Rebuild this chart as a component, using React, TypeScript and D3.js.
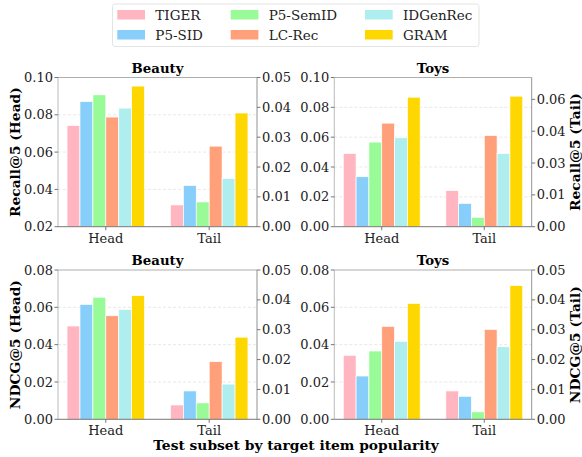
import React, { useEffect, useRef } from 'react';
import * as d3 from 'd3';

const methods = ['TIGER', 'P5-SID', 'P5-SemID', 'LC-Rec', 'IDGenRec', 'GRAM'];
const methodColors = ['#FFB6C1', '#87CEFA', '#98FB98', '#FFA07A', '#AFEEEE', '#FFD700'];
const subsets = ['Head', 'Tail'];

// values, one per method
const beautyRecallHead = [0.0743, 0.0871, 0.0907, 0.0788, 0.0836, 0.0954];
const beautyRecallTail = [0.0073, 0.0138, 0.0083, 0.0270, 0.0162, 0.0381];
const toysRecallHead = [0.0491, 0.0335, 0.0567, 0.0694, 0.0596, 0.0868];
const toysRecallTail = [0.0170, 0.0110, 0.0044, 0.0430, 0.0345, 0.0615];
const beautyNdcgHead = [0.0500, 0.0616, 0.0654, 0.0555, 0.0589, 0.0663];
const beautyNdcgTail = [0.0048, 0.0095, 0.0055, 0.0193, 0.0118, 0.0275];
const toysNdcgHead = [0.0343, 0.0232, 0.0366, 0.0498, 0.0418, 0.0621];
const toysNdcgTail = [0.0095, 0.0077, 0.0025, 0.0301, 0.0243, 0.0448];

const beautyRecallHeadTicks = [0.02, 0.04, 0.06, 0.08, 0.10];
const toysRecallHeadTicks = [0.0, 0.02, 0.04, 0.06, 0.08, 0.10];
const ndcgHeadTicks = [0.0, 0.02, 0.04, 0.06, 0.08];
const tailTicks = [0.0, 0.01, 0.02, 0.03, 0.04, 0.05];
const toysRecallTailTicks = [0.0, 0.015, 0.03, 0.045, 0.06];
const toysRecallTailLabels = ['0.00', '0.01', '0.03', '0.04', '0.06'];

const FONT = 'DejaVu Serif, serif';

const panels = [
    { title: 'Beauty', head: beautyRecallHead, tail: beautyRecallTail, headDomain: [0.02, 0.10], tailDomain: [0, 0.05],
      headTicks: beautyRecallHeadTicks, tailTicks: tailTicks, tailLabels: null, leftLabel: 'Recall@5 (Head)', rightLabel: null,
      box: [58, 77.5, 257, 226.7] },
    { title: 'Toys', head: toysRecallHead, tail: toysRecallTail, headDomain: [0, 0.10], tailDomain: [0, 0.0703],
      headTicks: toysRecallHeadTicks, tailTicks: toysRecallTailTicks, tailLabels: toysRecallTailLabels, leftLabel: null, rightLabel: 'Recall@5 (Tail)',
      box: [334.3, 77.5, 531.7, 226.7] },
    { title: 'Beauty', head: beautyNdcgHead, tail: beautyNdcgTail, headDomain: [0, 0.08], tailDomain: [0, 0.05],
      headTicks: ndcgHeadTicks, tailTicks: tailTicks, tailLabels: null, leftLabel: 'NDCG@5 (Head)', rightLabel: null,
      box: [58, 270, 257, 419.3] },
    { title: 'Toys', head: toysNdcgHead, tail: toysNdcgTail, headDomain: [0, 0.08], tailDomain: [0, 0.05],
      headTicks: ndcgHeadTicks, tailTicks: tailTicks, tailLabels: null, leftLabel: null, rightLabel: 'NDCG@5 (Tail)',
      box: [334.3, 270, 531.7, 419.3] },
];

const App = () => {
    const ref = useRef<SVGSVGElement>(null);

    useEffect(() => {
        document.body.style.margin = '0';
        const svg = d3.select(ref.current);
        svg.selectAll('*').remove();

        const barW = 0.125;

        panels.forEach(p => {
            const [x0, y0, x1, y1] = p.box;
            const x = d3.scaleLinear().domain([-0.4625, 1.4625]).range([x0, x1]);
            const yHead = d3.scaleLinear().domain(p.headDomain).range([y1, y0]);
            const yTail = d3.scaleLinear().domain(p.tailDomain).range([y1, y0]);
            const g = svg.append('g');

            // grid from the left axis
            g.selectAll('line.grid')
                .data(p.headTicks.filter(t => t > p.headDomain[0] && t < p.headDomain[1]))
                .join('line')
                .attr('x1', x0).attr('x2', x1)
                .attr('y1', d => yHead(d)).attr('y2', d => yHead(d))
                .attr('stroke', '#d9d9d9').attr('stroke-width', 0.6)
                .attr('stroke-dasharray', '3,2');

            subsets.forEach((s, si) => {
                const vals = si === 0 ? p.head : p.tail;
                const y = si === 0 ? yHead : yTail;
                g.selectAll(`rect.s${si}`)
                    .data(vals)
                    .join('rect')
                    .attr('x', (d, i) => x(si + (i - 3) * barW))
                    .attr('width', x(barW) - x(0))
                    .attr('y', d => y(d))
                    .attr('height', d => y1 - y(d))
                    .attr('fill', (d, i) => methodColors[i])
                    .attr('stroke', 'white')
                    .attr('stroke-width', 0.7);
            });

            // frame
            g.append('line').attr('x1', x0).attr('x2', x1).attr('y1', y0).attr('y2', y0).attr('stroke', '#999').attr('stroke-width', 0.8);
            g.append('line').attr('x1', x1).attr('x2', x1).attr('y1', y0).attr('y2', y1).attr('stroke', '#777').attr('stroke-width', 0.8);
            g.append('line').attr('x1', x0).attr('x2', x0).attr('y1', y0).attr('y2', y1).attr('stroke', '#aaa').attr('stroke-width', 0.8);
            g.append('line').attr('x1', x0).attr('x2', x1).attr('y1', y1).attr('y2', y1).attr('stroke', '#555').attr('stroke-width', 0.8);

            // left ticks
            g.selectAll('line.lt').data(p.headTicks).join('line')
                .attr('x1', x0 - 3.5).attr('x2', x0)
                .attr('y1', d => yHead(d)).attr('y2', d => yHead(d))
                .attr('stroke', '#555').attr('stroke-width', 0.8);
            g.selectAll('text.lt').data(p.headTicks).join('text')
                .attr('x', x0 - 5).attr('y', d => yHead(d)).attr('dy', '0.35em')
                .attr('text-anchor', 'end').style('font-family', FONT).style('font-size', '13px')
                .attr('fill', '#222')
                .text(d => d.toFixed(2));

            // right ticks
            g.selectAll('line.rt').data(p.tailTicks).join('line')
                .attr('x1', x1).attr('x2', x1 + 3.5)
                .attr('y1', d => yTail(d)).attr('y2', d => yTail(d))
                .attr('stroke', '#555').attr('stroke-width', 0.8);
            g.selectAll('text.rt').data(p.tailTicks).join('text')
                .attr('x', x1 + 5).attr('y', d => yTail(d)).attr('dy', '0.35em')
                .attr('text-anchor', 'start').style('font-family', FONT).style('font-size', '13px')
                .attr('fill', '#222')
                .text((d, i) => p.tailLabels ? p.tailLabels[i] : d.toFixed(2));

            // x ticks
            g.selectAll('line.xt').data(subsets).join('line')
                .attr('x1', (d, i) => x(i)).attr('x2', (d, i) => x(i))
                .attr('y1', y1).attr('y2', y1 + 3.5)
                .attr('stroke', '#555').attr('stroke-width', 0.8);
            g.selectAll('text.xt').data(subsets).join('text')
                .attr('x', (d, i) => x(i)).attr('y', y1 + 16)
                .attr('text-anchor', 'middle').style('font-family', FONT).style('font-size', '13px')
                .attr('fill', '#222')
                .text(d => d);

            g.append('text')
                .attr('x', (x0 + x1) / 2).attr('y', y0 - 5)
                .attr('text-anchor', 'middle').style('font-family', FONT).style('font-size', '13.3px')
                .style('font-weight', 'bold').text(p.title);

            if (p.leftLabel) {
                g.append('text')
                    .attr('transform', `translate(${x0 - 38.5},${(y0 + y1) / 2}) rotate(-90)`)
                    .attr('text-anchor', 'middle').style('font-family', FONT).style('font-size', '13.8px')
                    .style('font-weight', 'bold').text(p.leftLabel);
            }
            if (p.rightLabel) {
                g.append('text')
                    .attr('transform', `translate(${x1 + 48.5},${(y0 + y1) / 2}) rotate(-90)`)
                    .attr('text-anchor', 'middle').style('font-family', FONT).style('font-size', '13.8px')
                    .style('font-weight', 'bold').text(p.rightLabel);
            }
        });

        svg.append('text')
            .attr('x', 296).attr('y', 450)
            .attr('text-anchor', 'middle').style('font-family', FONT).style('font-size', '13.8px')
            .style('font-weight', 'bold').text('Test subset by target item popularity');

        // legend
        const legend = svg.append('g');
        legend.append('rect')
            .attr('x', 112.5).attr('y', 4).attr('width', 366.5).attr('height', 42.5)
            .attr('rx', 2.5).attr('fill', 'white').attr('stroke', '#ddd').attr('stroke-width', 0.8);
        const colX = [117.3, 230.7, 365];
        const items = legend.selectAll('g.item').data(methods).join('g')
            .attr('transform', (d, i) => `translate(${colX[Math.floor(i / 2)]},${i % 2 === 0 ? 10 : 30})`);
        items.append('rect')
            .attr('width', 27.7).attr('height', 9.5)
            .attr('fill', (d, i) => methodColors[i]);
        items.append('text')
            .attr('x', 38).attr('y', 4.75).attr('dy', '0.36em')
            .style('font-family', FONT).style('font-size', '13.5px').attr('fill', '#222')
            .text(d => d);
    }, []);

    return <svg ref={ref} width={582} height={457} style={{ display: 'block', background: 'white' }}></svg>;
};

export default App;
